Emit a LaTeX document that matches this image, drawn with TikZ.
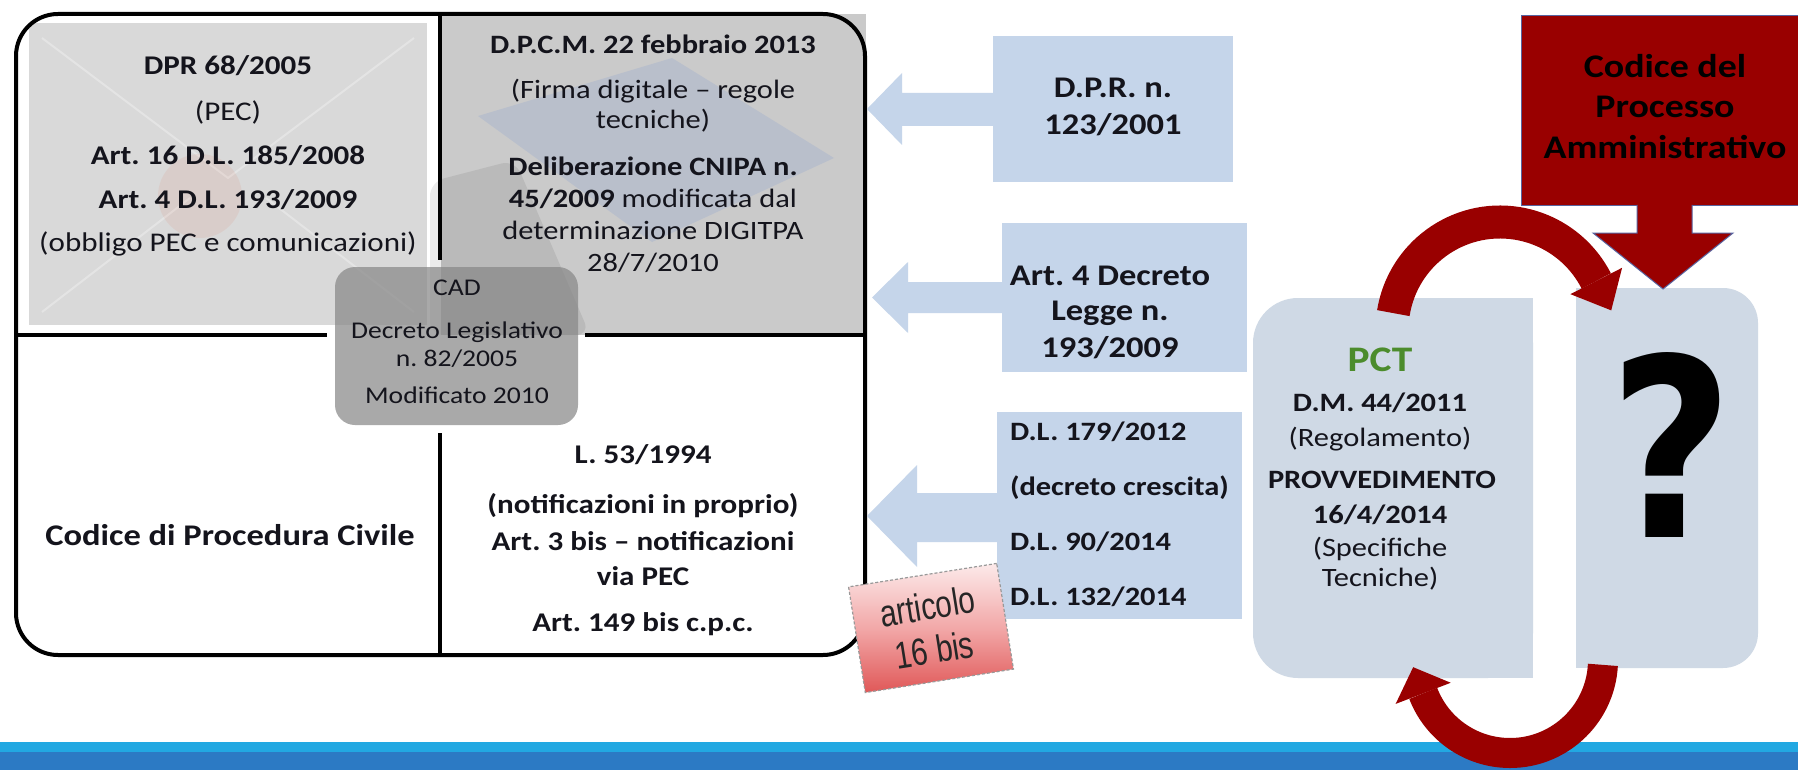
\documentclass[tikz,border=0pt]{standalone}
\usepackage{fontspec}
\setmainfont{Carlito}[FakeStretch=1.15]
\newfontfamily\notefont{Liberation Sans}[FakeStretch=0.78]
\newfontfamily\qfont{DejaVu Sans}
\usetikzlibrary{calc}
\newcommand\fz[1]{\fontsize{#1pt}{1.2\dimexpr#1pt\relax}\selectfont}
\definecolor{lblue}{RGB}{197,213,234}
\definecolor{pbox}{RGB}{207,217,229}
\definecolor{ulgray}{RGB}{217,217,217}
\definecolor{urgray}{RGB}{202,202,202}
\definecolor{dred}{RGB}{153,0,0}
\definecolor{pgreen}{RGB}{76,140,44}
\definecolor{barlight}{RGB}{34,168,226}
\definecolor{bardark}{RGB}{44,122,196}
\definecolor{cadgray}{RGB}{136,136,136}
\definecolor{redline}{RGB}{88,100,160}
\definecolor{cardblue}{RGB}{165,178,206}
\definecolor{notetop}{RGB}{252,234,234}
\definecolor{notemid}{RGB}{242,168,168}
\definecolor{notebot}{RGB}{224,88,88}
\definecolor{txt}{RGB}{20,20,28}
\begin{document}
\frenchspacing
\begin{tikzpicture}[x=1pt,y=-1pt,
  ln/.style={anchor=base,inner sep=0pt,outer sep=0pt,text=txt},
  lnw/.style={anchor=base west,inner sep=0pt,outer sep=0pt,text=txt},
  r27/.style={ln,font=\fz{27}},
  b27/.style={ln,font=\fz{27}\bfseries},
  r265/.style={ln,font=\fz{26.5}},
  b265/.style={ln,font=\fz{26.5}\bfseries},
  cadt/.style={ln,font=\fz{24}},
  b30/.style={ln,font=\fz{30}\bfseries},
  b3t/.style={lnw,font=\fz{26.5}\bfseries},
  redt/.style={ln,font=\fz{33}\bfseries,text=black},
  lbox/.style={fill=lblue,inner sep=0pt,outer sep=0pt},
  pboxs/.style={fill=pbox,inner sep=0pt,outer sep=0pt},
  frameline/.style={line width=4pt,black}]
\useasboundingbox (0,0) rectangle (1798,770);
\clip (0,0) rectangle (1798,770);
\fill[white] (0,0) rectangle (1798,770);

% upper-left panel (faint envelope photo)
\fill[ulgray] (29,23) rectangle (427,325);
\draw[white,opacity=0.3,line width=2pt,line join=round] (42,38) -- (228,178) -- (414,38);
\draw[white,opacity=0.3,line width=2pt] (42,312) -- (190,198) (414,312) -- (266,198);
\fill[brown!60!red,opacity=0.08] (200,196) circle[radius=42];

% upper-right panel (faint smart card photo)
\fill[urgray] (441,14) rectangle (866,335);
\fill[cardblue,opacity=0.45] (478,116) -- (672,58) -- (834,158) -- (652,242) -- cycle;
\fill[black,opacity=0.08,rounded corners=14pt] (430,182) -- (515,160) -- (590,335) -- (430,335) -- cycle;

% frame and dividers
\node[draw=black,line width=4pt,rounded corners=42pt,minimum width=849pt,minimum height=641pt,inner sep=0pt] (frame) at (440.5,334.5) {};
\draw[frameline] (440,14) -- (440,260);
\draw[frameline] (440,433) -- (440,655);
\draw[frameline] (16,335) -- (327,335);
\draw[frameline] (585,335) -- (865,335);

% CAD box
\node[fill=cadgray,fill opacity=0.72,rounded corners=20pt,minimum width=243pt,minimum height=158pt,inner sep=0pt] (cad) at (456.5,346) {};
\node[cadt] (cad1) at (457,295) {CAD};
\node[cadt] (cad2) at (457,338) {Decreto Legislativo};
\node[cadt] (cad3) at (457,366) {n. 82/2005};
\node[cadt] (cad4) at (457,403) {Modificato 2010};

% upper-left texts
\node[b27] (ul1) at (228,75) {DPR 68/2005};
\node[r27] (ul2) at (228,121) {(PEC)};
\node[b27] (ul3) at (228,165) {Art. 16 D.L. 185/2008};
\node[b27] (ul4) at (228,208) {Art. 4 D.L. 193/2009};
\node[r27] (ul5) at (228,251) {(obbligo PEC e comunicazioni)};

% upper-right texts
\node[b265] (ur1) at (653,53.5) {D.P.C.M. 22 febbraio 2013};
\node[r265] (ur2) at (653,98.5) {(Firma digitale – regole};
\node[r265] (ur3) at (653,128.5) {tecniche)};
\node[b265] (ur4) at (653,175.5) {Deliberazione CNIPA n.};
\node[r265] (ur5) at (653,207.5) {\textbf{45/2009} modificata dal};
\node[r265] (ur6) at (653,239.5) {determinazione DIGITPA};
\node[r265] (ur7) at (653,271.5) {28/7/2010};

% lower-left
\node[b30] (ll) at (230,545) {Codice di Procedura Civile};

% lower-right
\node[b27] (lr1) at (643,463) {L. 53/1994};
\node[b27] (lr2) at (643,513) {(notificazioni in proprio)};
\node[b27] (lr3) at (643,550) {Art. 3 bis – notificazioni};
\node[b27] (lr4) at (643,585) {via PEC};
\node[b27] (lr5) at (643,631) {Art. 149 bis c.p.c.};

% light blue boxes with left arrows
\node[lbox,minimum width=240pt,minimum height=146pt] (b1) at (1113,109) {};
\node[lbox,minimum width=245pt,minimum height=149pt] (b2) at (1124.5,297.5) {};
\node[lbox,minimum width=245pt,minimum height=207pt] (b3) at (1119.5,515.5) {};
\fill[lblue] (1000,93) -- (902,93) -- (902,73) -- (867,109) -- (902,145) -- (902,126) -- (1000,126) -- cycle;
\fill[lblue] (1010,282) -- (908,282) -- (908,262) -- (872,297.5) -- (908,333) -- (908,313) -- (1010,313) -- cycle;
\fill[lblue] (1005,493) -- (917,493) -- (917,465) -- (867,516) -- (917,567) -- (917,542) -- (1005,542) -- cycle;

\node[ln,font=\fz{30}\bfseries] (b1a) at (1113,98) {D.P.R. n.};
\node[ln,font=\fz{30}\bfseries] (b1b) at (1113,135) {123/2001};
\node[ln,font=\fz{30}\bfseries] (b2a) at (1110,285) {Art. 4 Decreto};
\node[ln,font=\fz{30}\bfseries] (b2b) at (1110,320) {Legge n.};
\node[ln,font=\fz{30}\bfseries] (b2c) at (1110,357) {193/2009};

% sticky note
\node[draw=black!40,densely dashed,line width=1.2pt,top color=notetop,bottom color=notebot,middle color=notemid,rotate=9,minimum width=150pt,minimum height=107pt,inner sep=0pt] (note) at (931,628) {};
\node[rotate=9,inner sep=0pt,align=center,font=\notefont\fontsize{38pt}{44pt}\selectfont,text=black!85] (notet) at (note.center) {articolo\\16 bis};

\node[b3t] (b3a) at (1010,440.5) {D.L. 179/2012};
\node[b3t] (b3b) at (1010,495.5) {(decreto crescita)};
\node[b3t] (b3c) at (1010,550.5) {D.L. 90/2014};
\node[b3t] (b3d) at (1010,605.5) {D.L. 132/2014};

% PCT box and question box
\node[pboxs,rounded corners=45pt,minimum width=280pt,minimum height=380pt] (pct) at (1393,488) {};
\fill[pbox] (pct.north) rectangle (pct.south east);
\node[pboxs,rounded corners=35pt,minimum width=182pt,minimum height=380pt] (qb) at (1667,478) {};
\fill[pbox] (qb.north west) rectangle (qb.south);

\node[ln,font=\fz{36}\bfseries,text=pgreen] (pct0) at (1380,371.5) {PCT};
\node[b265] (pct1) at (1380,411.5) {D.M. 44/2011};
\node[r265] (pct2) at (1380,446.5) {(Regolamento)};
\node[b265] (pct3) at (1382,488.5) {PROVVEDIMENTO};
\node[b265] (pct4) at (1380,523.5) {16/4/2014};
\node[r265] (pct5) at (1380,556.5) {(Specifiche};
\node[r265] (pct6) at (1380,586.5) {Tecniche)};
\node[inner sep=0pt] (qm) at (1672,445) {\resizebox{124pt}{185pt}{\qfont\bfseries ?}};

% bottom bar
\fill[barlight] (0,742) rectangle (1798,752);
\fill[bardark] (0,752) rectangle (1798,770);

% curved arrows between PCT and question box
\coordinate (uc) at (1500,330);
\draw[dred,line width=33pt] ($(uc)+(189:108)$) arc[start angle=189,end angle=333,radius=108];
\fill[dred] ($(uc)+(333:137)$) -- ($(uc)+(333:108)+(63:33)$) -- ($(uc)+(333:79)$) -- cycle;
\coordinate (lc) at (1510,660);
\draw[dred,line width=30pt] ($(lc)+(3:93)$) arc[start angle=3,end angle=159,radius=93];
\fill[dred] ($(lc)+(159:122.5)$) -- ($(lc)+(159:93)+(249:28)$) -- ($(lc)+(159:63.5)$) -- cycle;

% Codice del Processo Amministrativo
\node[fill=dred,draw=redline,line width=1pt,minimum width=280pt,minimum height=190pt,inner sep=0pt,anchor=north west] (cpa) at (1521,15) {};
\fill[dred] (1637,203) -- (1637,233) -- (1593,233) -- (1663,289) -- (1733,233) -- (1692,233) -- (1692,203) -- cycle;
\draw[redline,line width=1pt] (1637,205) -- (1637,233) -- (1593,233) -- (1663,289) -- (1733,233) -- (1692,233) -- (1692,205);
\node[redt] (cpa1) at (1665,77.5) {Codice del};
\node[redt] (cpa2) at (1665,117.5) {Processo};
\node[redt] (cpa3) at (1665,158.5) {Amministrativo};
\end{tikzpicture}
\end{document}
